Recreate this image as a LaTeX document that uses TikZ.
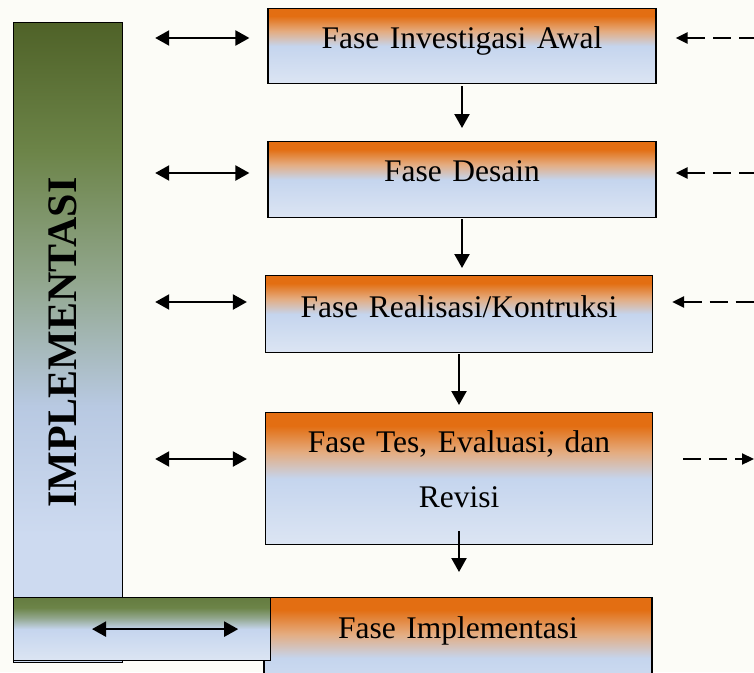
\documentclass[tikz,border=0pt]{standalone}
\usepackage{fontspec}
\setmainfont{Liberation Serif}
\usepackage{tikz}
\usetikzlibrary{arrows.meta}

\definecolor{latar}{RGB}{252,252,247}
\definecolor{faseorange}{RGB}{227,110,18}
\definecolor{fasepeach}{RGB}{228,172,128}
\definecolor{faseblue}{RGB}{197,213,238}
\definecolor{faselight}{RGB}{220,229,243}
\definecolor{implgreen}{RGB}{79,98,40}
\definecolor{implmid}{RGB}{108,132,72}
\definecolor{implgrey}{RGB}{145,166,140}
\definecolor{implblue}{RGB}{184,201,226}
\definecolor{impllight}{RGB}{205,218,240}

% orange on top, blue below
\pgfdeclareverticalshading{faseshade}{100bp}{color(0bp)=(faselight); color(25bp)=(faselight);
  color(50bp)=(faseblue); color(60bp)=(fasepeach); color(70bp)=(faseorange); color(100bp)=(faseorange)}
% green bar, long
\pgfdeclareverticalshading{implshade}{100bp}{color(0bp)=(impllight); color(25bp)=(impllight);
  color(35bp)=(impllight); color(45bp)=(implblue); color(55bp)=(implgrey); color(65bp)=(implmid);
  color(75bp)=(implgreen); color(100bp)=(implgreen)}
% green bar, short
\pgfdeclareverticalshading{bawahshade}{100bp}{color(0bp)=(faselight); color(25bp)=(faselight);
  color(50bp)=(faseblue); color(59bp)=(implgrey); color(67bp)=(implmid); color(100bp)=(implgreen)}

\begin{document}
\begin{tikzpicture}[x=1pt,y=-1pt
  ,>={Triangle[length=14pt,width=15pt]}
  ,line width=2.2pt]
  \tikzstyle{fase}=[draw=black,line width=1.2pt,shading=faseshade
  ,inner sep=0pt,text width=388pt,align=center,anchor=north
  ,text height=40pt,font=\fontsize{31.5}{55}\selectfont]
  \tikzstyle{implbar}=[draw=black,line width=1.2pt,inner sep=0pt,anchor=north west]
  \tikzstyle{kabur}=[dash pattern=on 18pt off 8pt
  ,>={Triangle[length=12pt,width=11pt]}]

  \useasboundingbox (0,0) rectangle (754,672);
  \clip (0,0) rectangle (754,672);
  \fill[latar] (0,0) rectangle (754,672);

  % side bar
  \node[implbar,shading=implshade,minimum width=109pt,minimum height=640pt] (vbar) at (13,22) {};
  \node[rotate=90,font=\fontsize{42}{48}\selectfont\bfseries] (impltext) at ([xshift=-5pt]vbar.center) {IMPLEMENTASI};

  % phases
  \node[fase,text depth=35pt] (b1) at (462,8) {Fase Investigasi Awal};
  \node[fase,text depth=36pt] (b2) at (462,141) {Fase Desain};
  \node[fase,text height=42pt,text depth=35pt,text width=387pt] (b3) at (459,275) {Fase Realisasi/Kontruksi};
  \node[fase,text depth=92pt,text width=387pt] (b4) at (459,412) {Fase Tes, Evaluasi, dan\\Revisi};
  \node[fase,text height=41pt,text depth=80pt] (b5) at (458,597) {Fase Implementasi};

  % bottom bar
  \node[implbar,shading=bawahshade,minimum width=257pt,minimum height=63pt] (hbar) at (13,597) {};

  \coordinate (k1) at (754,38);
  \coordinate (k2) at (754,173);
  \coordinate (k3) at (754,302);
  \coordinate (k4) at (754,459);

  \draw[->,shorten <=2pt,shorten >=13pt] (b1.south) -- (b1.south |- b2.north);
  \draw[->,shorten <=1pt,shorten >=7pt] (b2.south) -- (b2.south |- b3.north);
  \draw[->,shorten <=1pt,shorten >=7pt] (b3.south) -- (b3.south |- b4.north);
  \draw[->,shorten <=-14pt,shorten >=25pt] (b4.south) -- (b4.south |- b5.north);

  \foreach \b/\k in {b1/k1,b2/k2,b3/k3,b4/k4}
  \draw[<->,shorten <=32pt,shorten >=18pt] (vbar.east |- \k) -- (\b.west |- \k);
  \draw[<->,shorten <=79pt,shorten >=33pt] (hbar.west) -- (hbar.east);

  \foreach \b/\k in {b1/k1,b2/k2,b3/k3}
  \draw[<-,kabur,shorten <=19pt] (\b.east |- \k) -- (\k);
  \draw[->,kabur,shorten <=30pt] (b4.east |- k4) -- (k4);
\end{tikzpicture}
\end{document}
